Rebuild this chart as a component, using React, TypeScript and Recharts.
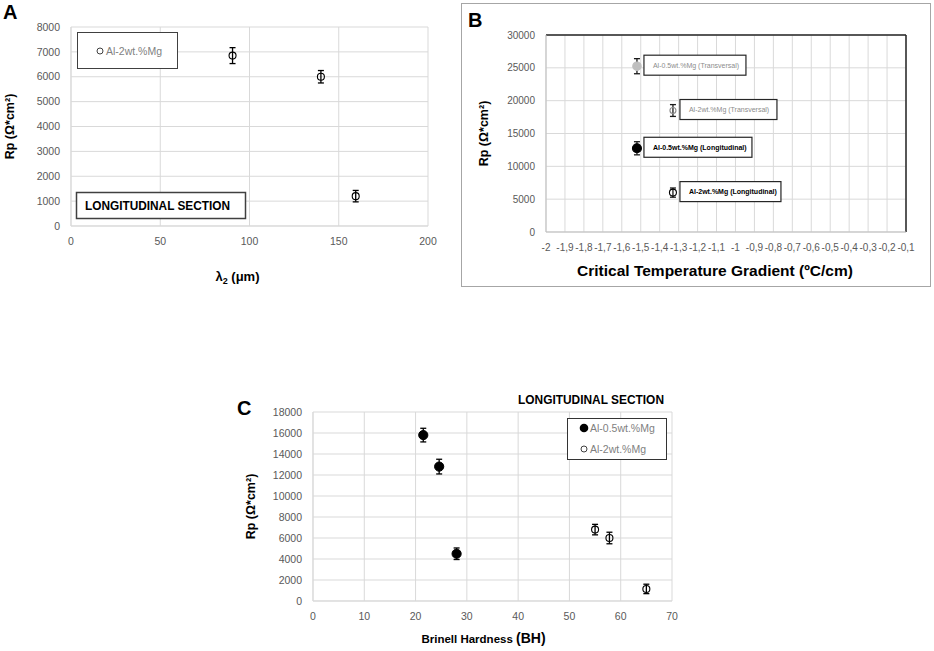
import React from 'react';
import { ScatterChart, Scatter, XAxis, YAxis, CartesianGrid, ErrorBar, Legend, ReferenceLine, Label } from 'recharts';

// ---------- Panel A data ----------
const seriesAName = 'Al-2wt.%Mg';
const lambda2A = [90.5, 140, 159.5];
const rpA = [6850, 6000, 1200];
const rpErrA = [320, 250, 230];
const xTicksA = [0, 50, 100, 150, 200];
const yTicksA = [0, 1000, 2000, 3000, 4000, 5000, 6000, 7000, 8000];

// ---------- Panel B data ----------
const seriesBNames = [
  'Al-0.5wt.%Mg (Transversal)',
  'Al-2wt.%Mg (Transversal)',
  'Al-0.5wt.%Mg (Longitudinal)',
  'Al-2wt.%Mg (Longitudinal)',
];
const gradientB = [-1.52, -1.33, -1.52, -1.33];
const rpB = [25250, 18500, 12750, 6000];
const rpErrB = [1150, 900, 1000, 700];
const xTicksB = [-2, -1.9, -1.8, -1.7, -1.6, -1.5, -1.4, -1.3, -1.2, -1.1, -1, -0.9, -0.8, -0.7, -0.6, -0.5, -0.4, -0.3, -0.2, -0.1];
const yTicksB = [0, 5000, 10000, 15000, 20000, 25000, 30000];

// ---------- Panel C data ----------
const seriesCNames = ['Al-0.5wt.%Mg', 'Al-2wt.%Mg'];
const hardness05 = [21.5, 24.6, 28];
const rp05 = [15800, 12800, 4500];
const rpErr05 = [650, 700, 550];
const hardness2 = [55, 57.8, 65];
const rp2 = [6800, 6000, 1150];
const rpErr2 = [500, 550, 450];
const xTicksC = [0, 10, 20, 30, 40, 50, 60, 70];
const yTicksC = [0, 2000, 4000, 6000, 8000, 10000, 12000, 14000, 16000, 18000];

// ---------- built tables ----------
const dataA = lambda2A.map((x, i) => ({ x, y: rpA[i], err: rpErrA[i] }));
const dataB = seriesBNames.map((name, i) => ({
  name,
  data: [{ x: gradientB[i], y: rpB[i], err: rpErrB[i], label: name }],
}));
const dataC05 = hardness05.map((x, i) => ({ x, y: rp05[i], err: rpErr05[i] }));
const dataC2 = hardness2.map((x, i) => ({ x, y: rp2[i], err: rpErr2[i] }));

// ---------- styles ----------
const FONT = "'Liberation Sans', Arial, Helvetica, sans-serif";
const GRID = '#d9d9d9';
const TICK_A = { fontSize: 10.5, fill: '#595959', fontFamily: FONT };
const TICK_B = { fontSize: 10, fill: '#595959', fontFamily: FONT };
const styleB = [
  { fill: '#bfbfbf', stroke: '#bfbfbf', r: 4.2, boxW: 102, text: '#8c8c8c', bold: false },
  { fill: 'none', stroke: '#8c8c8c', r: 3, boxW: 97, text: '#8c8c8c', bold: false },
  { fill: '#000', stroke: '#000', r: 4.5, boxW: 108, text: '#000', bold: true },
  { fill: 'none', stroke: '#000', r: 3.5, boxW: 101, text: '#000', bold: true },
];

const openCircle = (p: any) => (
  <circle cx={p.cx} cy={p.cy} r={3.5} fill="none" stroke="#000" strokeWidth={1.1} />
);
const filledCircle = (p: any) => <circle cx={p.cx} cy={p.cy} r={4.6} fill="#000" stroke="#000" />;

const makeShapeB = (st: any) => (p: any) => (
  <g>
    <circle cx={p.cx} cy={p.cy} r={st.r} fill={st.fill} stroke={st.stroke} strokeWidth={1.1} />
    <rect x={p.cx + 7} y={p.cy - 11} width={st.boxW} height={20} fill="#fff" stroke="#262626" strokeWidth={1.2} />
    <text
      x={p.cx + 16}
      y={p.cy + 1.5}
      fontSize={7}
      fontFamily={FONT}
      fontWeight={st.bold ? 'bold' : 'normal'}
      fill={st.text}
    >
      {p.payload.label}
    </text>
  </g>
);

const fmtB = (v: number) => (Number.isInteger(v) ? String(v) : String(v).replace('.', ','));

const yLabel = (cxOffset: number) => (props: any) => {
  const vb = props.viewBox;
  const cx = cxOffset;
  const cy = vb.y + vb.height / 2;
  return (
    <text
      x={cx}
      y={cy}
      transform={`rotate(-90, ${cx}, ${cy})`}
      textAnchor="middle"
      dominantBaseline="central"
      fontSize={12.5}
      fontWeight="bold"
      fontFamily={FONT}
      fill="#000"
    >
      Rp (Ω*cm²)
    </text>
  );
};

const xLabelA = (props: any) => {
  const vb = props.viewBox;
  return (
    <text x={vb.x + vb.width / 2 - 12} y={vb.y + 55} textAnchor="middle" fontSize={13} fontWeight="bold" fontFamily={FONT} fill="#000">
      λ<tspan fontSize={9} dy={3}>2</tspan>
      <tspan dy={-3}> (μm)</tspan>
    </text>
  );
};

const xLabelB = (props: any) => {
  const vb = props.viewBox;
  return (
    <text x={vb.x + vb.width / 2 - 11} y={vb.y + 44} textAnchor="middle" fontSize={15.5} fontWeight="bold" fontFamily={FONT} fill="#000">
      Critical Temperature Gradient (ºC/cm)
    </text>
  );
};

const xLabelC = (props: any) => {
  const vb = props.viewBox;
  return (
    <text x={vb.x + vb.width / 2 - 9} y={vb.y + 42} textAnchor="middle" fontFamily={FONT} fill="#000" fontWeight="bold">
      <tspan fontSize={11.5}>Brinell Hardness </tspan>
      <tspan fontSize={14}>(BH)</tspan>
    </text>
  );
};

const legendA = () => (
  <div
    style={{
      boxSizing: 'border-box',
      width: 101,
      height: 37,
      border: '1.5px solid #404040',
      display: 'flex',
      alignItems: 'center',
      paddingLeft: 18,
      fontFamily: FONT,
      fontSize: 10.5,
      color: '#7f7f7f',
      background: '#fff',
    }}
  >
    <svg width={8} height={8} style={{ marginRight: 2 }}>
      <circle cx={4} cy={4} r={3} fill="none" stroke="#404040" strokeWidth={1} />
    </svg>
    <span>{seriesAName}</span>
  </div>
);

const legendC = () => (
  <div
    style={{
      boxSizing: 'border-box',
      width: 100,
      height: 42,
      border: '1.5px solid #333',
      position: 'relative',
      fontFamily: FONT,
      fontSize: 10.5,
      color: '#7f7f7f',
      background: '#fff',
    }}
  >
    <div style={{ position: 'absolute', left: 11, top: 2, display: 'flex', alignItems: 'center', height: 14 }}>
      <svg width={10} height={10} style={{ marginRight: 1 }}>
        <circle cx={5} cy={5} r={4.3} fill="#000" />
      </svg>
      <span>{seriesCNames[0]}</span>
    </div>
    <div style={{ position: 'absolute', left: 11, top: 23, display: 'flex', alignItems: 'center', height: 14 }}>
      <svg width={10} height={10} style={{ marginRight: 1 }}>
        <circle cx={5} cy={5} r={3} fill="none" stroke="#404040" strokeWidth={1} />
      </svg>
      <span>{seriesCNames[1]}</span>
    </div>
  </div>
);

export default function App() {
  return (
    <div style={{ position: 'absolute', left: 0, top: 0, width: 934, height: 651, background: '#fff', overflow: 'hidden' }}>
      {/* Panel A */}
      <div style={{ position: 'absolute', left: 0, top: 0 }}>
        <ScatterChart width={440} height={300} margin={{ top: 27, right: 12, bottom: 14, left: 0 }}>
          <CartesianGrid stroke={GRID} />
          <XAxis type="number" dataKey="x" domain={[0, 200]} ticks={xTicksA} interval={0} tickLine={false} axisLine={{ stroke: GRID }} tick={TICK_A} tickMargin={6} height={60}>
            <Label content={xLabelA} />
          </XAxis>
          <YAxis type="number" dataKey="y" domain={[0, 8000]} ticks={yTicksA} interval={0} tickLine={false} axisLine={{ stroke: GRID }} tick={TICK_A} tickMargin={5} width={71}>
            <Label content={yLabel(10)} />
          </YAxis>
          <Scatter name={seriesAName} data={dataA} shape={openCircle} isAnimationActive={false}>
            <ErrorBar dataKey="err" direction="y" width={3} stroke="#000" strokeWidth={1.3} />
          </Scatter>
          <Legend layout="horizontal" verticalAlign="middle" align="center" content={legendA} wrapperStyle={{ position: 'absolute', left: 77, top: 32, width: 101, height: 37 }} />
        </ScatterChart>
      </div>

      {/* Panel B */}
      <div style={{ position: 'absolute', left: 461, top: 3, width: 470, height: 284, border: '1.5px solid #a6a6a6', boxSizing: 'border-box' }} />
      <div style={{ position: 'absolute', left: 460, top: 0 }}>
        <ScatterChart width={474} height={300} margin={{ top: 35, right: 28, bottom: 18, left: 0 }}>
          <CartesianGrid stroke={GRID} />
          <XAxis type="number" dataKey="x" domain={[-2, -0.1]} ticks={xTicksB} interval={0} tickFormatter={fmtB} tickLine={false} axisLine={{ stroke: '#bfbfbf' }} tick={TICK_B} tickMargin={6} height={50}>
            <Label content={xLabelB} />
          </XAxis>
          <YAxis type="number" dataKey="y" domain={[0, 30000]} ticks={yTicksB} interval={0} tickLine={false} axisLine={{ stroke: '#bfbfbf' }} tick={TICK_B} tickMargin={5} width={86}>
            <Label content={yLabel(23.5)} />
          </YAxis>
          <ReferenceLine y={30000} stroke="#262626" strokeWidth={1.5} />
          <ReferenceLine x={-0.1} stroke="#262626" strokeWidth={1.5} />
          {dataB.map((s, i) => (
            <Scatter key={s.name} name={s.name} data={s.data} shape={makeShapeB(styleB[i])} isAnimationActive={false}>
              <ErrorBar dataKey="err" direction="y" width={3} stroke="#1a1a1a" strokeWidth={1.3} />
            </Scatter>
          ))}
        </ScatterChart>
      </div>

      {/* Panel C */}
      <div style={{ position: 'absolute', left: 220, top: 350 }}>
        <ScatterChart width={480} height={300} margin={{ top: 62, right: 28, bottom: 4, left: 0 }}>
          <CartesianGrid stroke={GRID} />
          <XAxis type="number" dataKey="x" domain={[0, 70]} ticks={xTicksC} interval={0} tickLine={false} axisLine={{ stroke: GRID }} tick={TICK_A} tickMargin={6} height={45}>
            <Label content={xLabelC} />
          </XAxis>
          <YAxis type="number" dataKey="y" domain={[0, 18000]} ticks={yTicksC} interval={0} tickLine={false} axisLine={{ stroke: GRID }} tick={TICK_A} tickMargin={5} width={93}>
            <Label content={yLabel(31)} />
          </YAxis>
          <Scatter name={seriesCNames[0]} data={dataC05} shape={filledCircle} isAnimationActive={false}>
            <ErrorBar dataKey="err" direction="y" width={3} stroke="#000" strokeWidth={1.3} />
          </Scatter>
          <Scatter name={seriesCNames[1]} data={dataC2} shape={openCircle} isAnimationActive={false}>
            <ErrorBar dataKey="err" direction="y" width={3} stroke="#000" strokeWidth={1.3} />
          </Scatter>
          <Legend layout="horizontal" verticalAlign="middle" align="center" content={legendC} wrapperStyle={{ position: 'absolute', left: 347, top: 68, width: 100, height: 42 }} />
        </ScatterChart>
      </div>

      {/* Static annotations */}
      <svg width={934} height={651} style={{ position: 'absolute', left: 0, top: 0, pointerEvents: 'none' }}>
        <text x={3} y={19} fontSize={20} fontWeight="bold" fontFamily={FONT} fill="#000">A</text>
        <text x={468} y={27} fontSize={20} fontWeight="bold" fontFamily={FONT} fill="#000">B</text>
        <text x={237} y={415} fontSize={20} fontWeight="bold" fontFamily={FONT} fill="#000">C</text>
        <rect x={76.5} y={192.5} width={169} height={26} fill="#fff" stroke="#404040" strokeWidth={1.5} />
        <text x={85} y={209.5} fontSize={13} fontWeight="bold" fontFamily={FONT} fill="#000" textLength={145} lengthAdjust="spacingAndGlyphs">
          LONGITUDINAL SECTION
        </text>
        <text x={518} y={403.5} fontSize={13.5} fontWeight="bold" fontFamily={FONT} fill="#000" textLength={146} lengthAdjust="spacingAndGlyphs">
          LONGITUDINAL SECTION
        </text>
      </svg>
    </div>
  );
}
